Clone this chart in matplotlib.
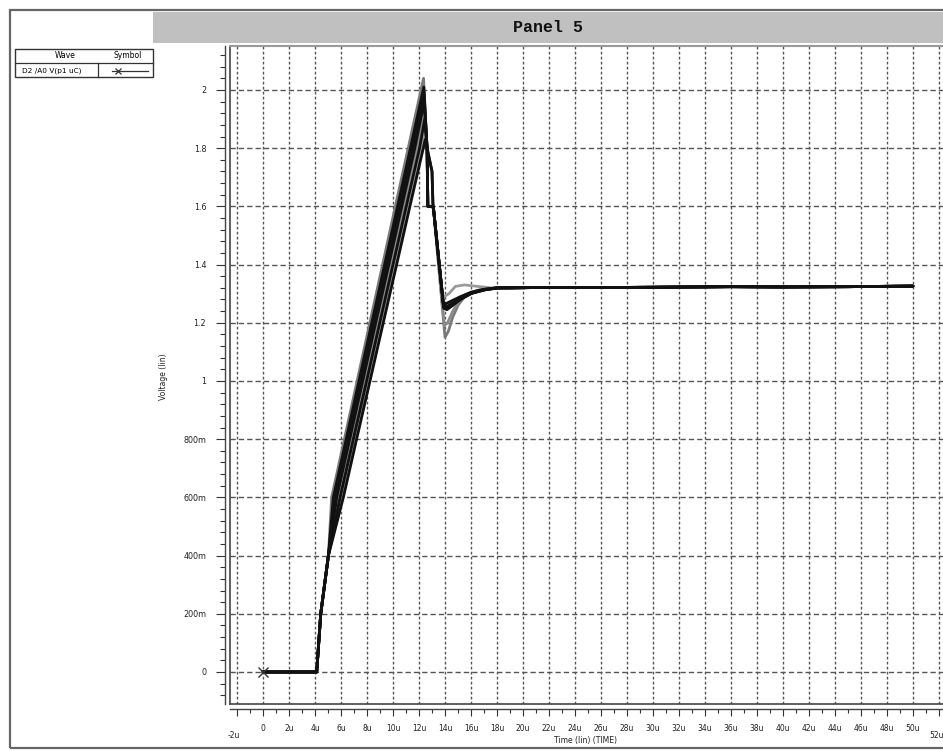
import matplotlib
matplotlib.use("Agg")
import matplotlib.pyplot as plt
import matplotlib.transforms as mtransforms
from matplotlib.lines import Line2D
from matplotlib.patches import Rectangle
from matplotlib.ticker import MultipleLocator, FixedLocator

# ---------------- data (time in µs, voltage in V) ----------------
title = "Panel 5"
wave_name = "D2 /A0 V(p1 uC)"
x_label = "Time (lin) (TIME)"
y_label = "Voltage (lin)"

x_ticks = [-2, 0, 2, 4, 6, 8, 10, 12, 14, 16, 18, 20, 22, 24, 26, 28, 30,
           32, 34, 36, 38, 40, 42, 44, 46, 48, 50, 52]
x_tick_labels = ["-2u", "0", "2u", "4u", "6u", "8u", "10u", "12u", "14u", "16u",
                 "18u", "20u", "22u", "24u", "26u", "28u", "30u", "32u", "34u",
                 "36u", "38u", "40u", "42u", "44u", "46u", "48u", "50u", "52u"]
y_ticks = [0, 0.2, 0.4, 0.6, 0.8, 1.0, 1.2, 1.4, 1.6, 1.8, 2.0]
y_tick_labels = ["0", "200m", "400m", "600m", "800m", "1", "1.2", "1.4", "1.6", "1.8", "2"]

# common start of every run
start_t = [0.0, 4.13, 4.44, 5.03]
start_v = [0.0, 0.0, 0.20, 0.40]

# rising edge: time at which each run crosses these levels
rise_levels = [0.6, 0.8, 1.0, 1.2, 1.4, 1.6, 1.8]
rise_times = [
    [5.28, 6.26, 7.24, 8.22, 9.20, 10.18, 11.17],
    [5.41, 6.40, 7.38, 8.37, 9.36, 10.35, 11.34],
    [5.54, 6.53, 7.53, 8.52, 9.52, 10.51, 11.51],
    [5.67, 6.67, 7.67, 8.67, 9.68, 10.68, 11.68],
    [5.80, 6.81, 7.82, 8.83, 9.84, 10.85, 11.86],
    [5.93, 6.95, 7.97, 8.98, 10.00, 11.02, 12.04],
    [6.05, 7.08, 8.11, 9.13, 10.14, 11.16, 12.19],
    [6.18, 7.20, 8.23, 9.25, 10.28, 11.30, 12.33],
]
peak_t = [12.35, 12.37, 12.38, 12.40, 12.42, 12.44, 12.46, 12.48]
peak_v = [2.04, 2.01, 1.99, 1.96, 1.93, 1.90, 1.86, 1.83]

# falling edge paths
fall_paths_t = [[12.62, 12.68, 13.05, 13.12], [12.62, 13.00, 13.07, 13.12]]
fall_paths_v = [[1.80, 1.60, 1.60, 1.59], [1.80, 1.72, 1.61, 1.59]]
fall_path_of_run = [0, 0, 1, 0, 0, 1, 0, 0]

# undershoot and recovery of each run
dip_t = [
    [14.00, 14.25, 14.60, 15.00, 15.60, 16.50, 17.80],
    [13.90, 14.15, 14.60, 15.20, 16.00, 17.00, 18.00],
    [13.86, 14.05, 14.50, 15.20, 16.00, 17.00, 18.00],
    [13.88, 14.10, 14.60, 15.30, 16.10, 17.20, 18.20],
    [13.95, 14.20, 14.60, 15.10, 15.80, 16.80, 18.00],
    [13.90, 14.12, 14.55, 15.20, 16.00, 17.00, 18.00],
    [13.75, 13.95, 14.30, 14.80, 15.50, 16.50, 17.50],
    [13.89, 14.10, 14.50, 15.10, 15.90, 17.00, 18.00],
]
dip_v = [
    [1.15, 1.17, 1.22, 1.26, 1.295, 1.312, 1.319],
    [1.25, 1.245, 1.26, 1.28, 1.30, 1.313, 1.319],
    [1.27, 1.265, 1.275, 1.29, 1.305, 1.315, 1.32],
    [1.26, 1.255, 1.268, 1.285, 1.302, 1.314, 1.32],
    [1.19, 1.20, 1.24, 1.275, 1.30, 1.314, 1.32],
    [1.255, 1.25, 1.262, 1.283, 1.302, 1.314, 1.32],
    [1.30, 1.29, 1.30, 1.325, 1.33, 1.325, 1.32],
    [1.255, 1.248, 1.258, 1.28, 1.30, 1.314, 1.32],
]

# settled tail shared by all runs
tail_t = [19.0, 21.0, 26.0, 30.0, 36.0, 40.0, 45.0, 50.0]
tail_v = [1.320, 1.321, 1.321, 1.322, 1.324, 1.323, 1.324, 1.326]

# styles
run_colors = ["#7a7a7a", "#111111", "#111111", "#111111", "#8a8a8a", "#111111", "#9a9a9a", "#111111"]

# ---------------- figure ----------------
W, H = 943, 751
fig = plt.figure(figsize=(W / 100, H / 100), dpi=100)
fig.patch.set_facecolor("white")


def fx(px):
    return px / W


def fy(py):
    return 1 - py / H


# outer frame
fig.add_artist(Rectangle((fx(9.5), fy(748)), fx(960 - 9.5), (748 - 9.5) / H,
                         transform=fig.transFigure, fill=False, ec="#666666", lw=1.6))
# title band
fig.add_artist(Rectangle((fx(153), fy(43)), fx(943 - 153), (43 - 12) / H,
                         transform=fig.transFigure, fc="#c0c0c0", ec="none"))
fig.text(fx(548), fy(28), title, family="Liberation Mono", weight="bold",
         fontsize=12, ha="center", va="center", color="#111111")

# legend table
leg_rect = Rectangle((fx(15), fy(77)), fx(153 - 15), (77 - 49) / H,
                     transform=fig.transFigure, fill=False, ec="#333333", lw=1)
fig.add_artist(leg_rect)
fig.add_artist(Line2D([fx(15), fx(153)], [fy(63), fy(63)], transform=fig.transFigure,
                      color="#333333", lw=0.9))
fig.add_artist(Line2D([fx(98), fx(98)], [fy(63), fy(77)], transform=fig.transFigure,
                      color="#333333", lw=0.9))
fig.text(fx(65), fy(56), "Wave", fontsize=5.5, ha="center", va="center")
sym_txt = fig.text(fx(113), fy(56), "Symbol", fontsize=5.5, ha="left", va="center")
sym_txt.set_clip_path(leg_rect)
fig.text(fx(22), fy(70.5), wave_name, fontsize=5.3, ha="left", va="center")
fig.add_artist(Line2D([fx(112), fx(148)], [fy(71), fy(71)], transform=fig.transFigure,
                      color="#333333", lw=0.9))
fig.add_artist(Line2D([fx(118)], [fy(71)], transform=fig.transFigure, marker="x",
                      ms=5, mew=0.9, color="#333333", ls="none"))

# axes
ax = fig.add_axes([fx(230), fy(704), fx(943 - 230), (704 - 46) / H])
ax.set_xlim(-2.54, 52.31)
ax.set_ylim(-0.110, 2.151)
ax.set_facecolor("white")

ax.spines["right"].set_visible(False)
ax.spines["top"].set_color("#999999")
ax.spines["top"].set_linewidth(1.5)
for side in ["left", "bottom"]:
    ax.spines[side].set_position(("outward", 3.6))
    ax.spines[side].set_color("#444444")
    ax.spines[side].set_linewidth(1.0)

# inner edge lines (double border)
ax.add_artist(Line2D([0, 0], [0, 1], transform=ax.transAxes, color="#444444",
                     lw=1.2, clip_on=False))
ax.add_artist(Line2D([0, 1], [0, 0], transform=ax.transAxes, color="#444444",
                     lw=1.2, clip_on=False))

ax.xaxis.set_major_locator(FixedLocator(x_ticks))
ax.xaxis.set_minor_locator(MultipleLocator(1))
ax.yaxis.set_major_locator(FixedLocator(y_ticks))
ax.yaxis.set_minor_locator(MultipleLocator(0.04))

xl = list(x_tick_labels)
xl[0] = ""
xl[-1] = ""
ax.set_xticklabels(xl)
ax.set_yticklabels(y_tick_labels)

ax.tick_params(axis="x", which="major", direction="out", length=5, width=0.8,
               colors="#333333", labelsize=5.5, pad=6, labelcolor="#222222")
ax.tick_params(axis="x", which="minor", direction="out", length=3, width=0.8, colors="#333333")
ax.tick_params(axis="y", which="major", direction="out", length=6.5, width=0.8,
               colors="#333333", labelsize=5.8, pad=7, labelcolor="#222222")
ax.tick_params(axis="y", which="minor", direction="out", length=3.5, width=0.8, colors="#333333")

# staggered edge labels
low = mtransforms.offset_copy(ax.get_xaxis_transform(), fig=fig, x=0, y=-31, units="dots")
ax.text(x_ticks[0] - 0.25, 0, x_tick_labels[0], transform=low, fontsize=5.5,
        ha="center", va="center", color="#222222", clip_on=False)
ax.text(x_ticks[-1] - 0.2, 0, x_tick_labels[-1], transform=low, fontsize=5.5,
        ha="center", va="center", color="#222222", clip_on=False)

# grid
ax.xaxis.grid(True, which="major", color="#555555", lw=1.0, ls=(0, (2.0, 1.6)))
ax.yaxis.grid(True, which="major", color="#555555", lw=1.0, ls=(0, (3.8, 2.2)))
ax.set_axisbelow(True)

# traces
order = sorted(range(len(rise_times)), key=lambda i: 0 if run_colors[i] != "#111111" else 1)
for i in order:
    p = fall_path_of_run[i]
    t = start_t + rise_times[i] + [peak_t[i]] + fall_paths_t[p] + dip_t[i] + tail_t
    v = start_v + rise_levels + [peak_v[i]] + fall_paths_v[p] + dip_v[i] + tail_v
    ax.plot(t, v, color=run_colors[i], lw=2.0, solid_joinstyle="round",
            solid_capstyle="round", zorder=3)

# start marker
ax.plot([start_t[0]], [start_v[0]], marker="x", ms=7, mew=1.0, color="#333333",
        ls="none", zorder=4, clip_on=False)

# axis labels
fig.text(fx(586), fy(740), x_label, fontsize=5.5, ha="center", va="center", color="#222222")
fig.text(fx(164), fy(377), y_label, fontsize=5.5, ha="center", va="center",
         rotation=90, color="#222222")

fig.savefig("out.png", dpi=100)
